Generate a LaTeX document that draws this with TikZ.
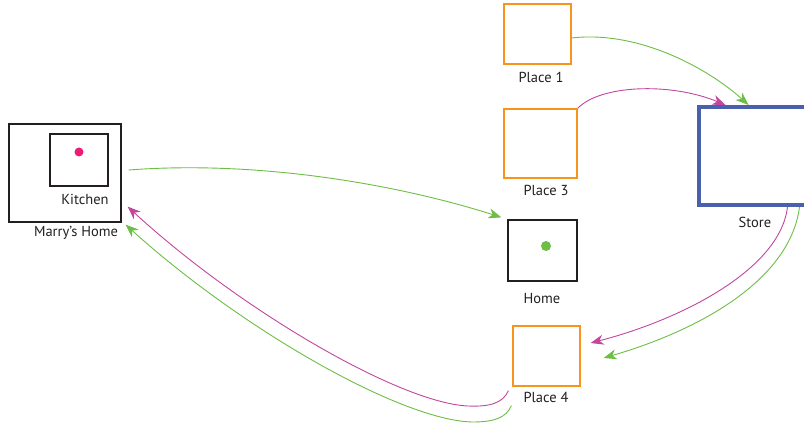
\documentclass[tikz,border=0pt]{standalone}
\usepackage{fontspec}
\setmainfont{PT Sans}
\usetikzlibrary{arrows.meta}
\definecolor{RouteInk}{HTML}{231F20}
\definecolor{RouteGreen}{HTML}{6DBE45}
\definecolor{RoutePink}{HTML}{C2479C}
\definecolor{RouteDot}{HTML}{EC1C74}
\definecolor{RouteOrange}{HTML}{F7941D}
\definecolor{RouteBlue}{HTML}{4A60AD}

\begin{document}
\begin{tikzpicture}[x=1pt,y=-1pt,
    room/.style={draw=RouteInk,line width=1.2pt,inner sep=0pt},
    stop/.style={draw=RouteOrange,line width=1.2pt,inner sep=0pt},
    tag/.style={text=RouteInk,font=\fontsize{14.5}{17}\selectfont,inner sep=0pt},
    trip/.style={line width=0.9pt,-{Stealth[length=13pt,width=10pt,inset=4pt]}}]
  \useasboundingbox (0,0) rectangle (804,430);

  % houses
  \node[room,minimum width=112pt,minimum height=98pt] (marry) at (65,173) {};
  \node[room,minimum width=58pt,minimum height=52pt] (kitchen) at (79,160) {};
  \fill[RouteDot] (79,152) circle (4.5);
  \node[tag] (kitchenlbl) at (85,199) {Kitchen};
  \node[tag] (marrylbl) at (76,233) {Marry's Home};

  \node[room,minimum width=69pt,minimum height=61pt] (home) at (542.5,250.5) {};
  \fill[RouteGreen] (546,246) circle (5);
  \node[tag] (homelbl) at (542,299) {Home};

  % places along the way
  \node[stop,minimum width=67pt,minimum height=60pt] (p1) at (537.5,34) {};
  \node[tag] (p1lbl) at (541,77) {Place 1};
  \node[stop,minimum width=73pt,minimum height=69pt] (p3) at (540.5,143.5) {};
  \node[tag] (p3lbl) at (546,190) {Place 3};
  \node[stop,minimum width=67pt,minimum height=60pt] (p4) at (546.5,356) {};
  \node[tag] (p4lbl) at (546,397) {Place 4};

  \begin{scope}
    \clip (0,0) rectangle (804,430);
    \node[draw=RouteBlue,line width=4pt,inner sep=0pt,minimum width=131pt,minimum height=98pt] (store) at (764.5,156) {};
  \end{scope}
  \node[tag] (storelbl) at (755,222) {Store};

  % green trip
  \draw[trip,RouteGreen] ([shift={(7,-3)}]marry.east) .. controls (260,160) and (400,185) .. ([shift={(-6,-2)}]home.north west);
  \draw[trip,RouteGreen] ([yshift=-4pt]p1.east) .. controls (640,30) and (710,70) .. ([xshift=-16pt]store.north);
  \draw[trip,RouteGreen] ([xshift=35pt]store.south) .. controls (790,280) and (700,330) .. ([shift={(23,2)}]p4.east);
  \draw[trip,RouteGreen] ([shift={(-1,19)}]p4.south west) .. controls (506,418) and (494,422) .. (472,422)
    .. controls (400,420) and (240,328) .. ([shift={(4,2)}]marry.south east);

  % pink trip
  \draw[trip,RoutePink] (p3.north east) .. controls (600,85) and (670,82) .. ([xshift=-39pt]store.north);
  \draw[trip,RoutePink] ([xshift=23pt]store.south) .. controls (780,270) and (680,320) .. ([shift={(10,-13)}]p4.east);
  \draw[trip,RoutePink] ([shift={(-4,4)}]p4.south west) .. controls (503,403) and (490,407) .. (468,406)
    .. controls (400,403) and (240,310) .. ([shift={(6,-16)}]marry.south east);
\end{tikzpicture}
\end{document}
